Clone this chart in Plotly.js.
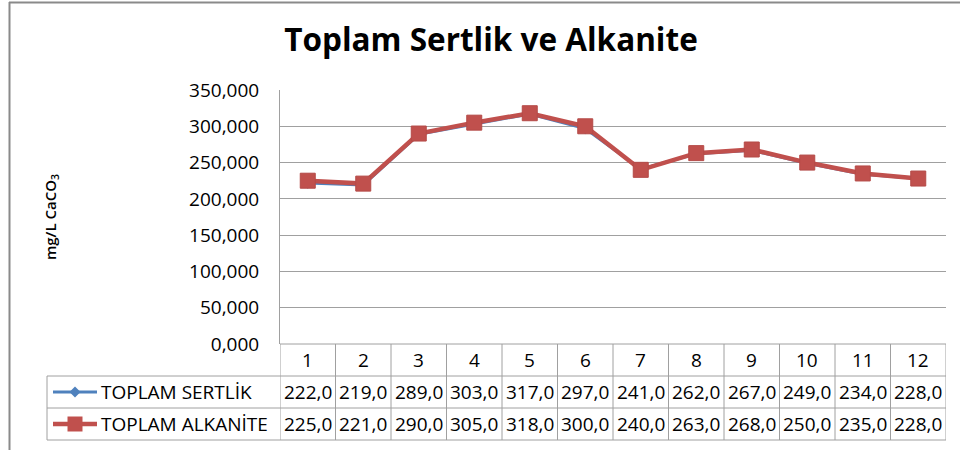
<!DOCTYPE html>
<html>
<head>
<meta charset="utf-8">
<script src="https://cdn.plot.ly/plotly-3.0.1.min.js"></script>
<style>
  html, body { margin: 0; padding: 0; background: #fff; }
  #chart { width: 960px; height: 450px; }
</style>
</head>
<body>
<div id="chart"></div>
<script>
// ---- data ----
var categories = [1, 2, 3, 4, 5, 6, 7, 8, 9, 10, 11, 12];
var seriesNames = ["TOPLAM SERTLİK", "TOPLAM ALKANİTE"];
var sertlik  = [222, 219, 289, 303, 317, 297, 241, 262, 267, 249, 234, 228];
var alkanite = [225, 221, 290, 305, 318, 300, 240, 263, 268, 250, 235, 228];
var yTickVals = [0, 50, 100, 150, 200, 250, 300, 350];

var FONT = "Open Sans, Lato, sans-serif";
var gridColor = "#a0a0a0";
var blue = "#4F81BD", red = "#C0504D";

function fmt1(v) { return v.toFixed(1).replace(".", ","); }

var traces = [
  {
    x: categories, y: sertlik, name: seriesNames[0], type: "scatter", mode: "lines+markers",
    line: { color: blue, width: 3 },
    marker: { symbol: "diamond", size: 9, color: blue }
  },
  {
    x: categories, y: alkanite, name: seriesNames[1], type: "scatter", mode: "lines+markers",
    line: { color: red, width: 4.5 },
    marker: { symbol: "square", size: 15, color: red, line: { color: "#B44A47", width: 1 } }
  }
];

// ---- table geometry ----
var plotTopPx = 90, plotBotPx = 344, plotLeftPx = 280, plotRightPx = 946;
var plotH = plotBotPx - plotTopPx, plotW = plotRightPx - plotLeftPx;
function py(px) { return (plotBotPx - px) / plotH; }
function pxx(px) { return (px - plotLeftPx) / plotW; }
var rowLines = [344, 376, 408, 440];
var headerMid = py(360), row1Mid = py(392), row2Mid = py(424);

var shapes = [];
rowLines.forEach(function (r) {
  shapes.push({ type: "line", xref: "x", yref: "paper", x0: 0.5, x1: categories.length + 0.5,
    y0: py(r), y1: py(r), line: { color: gridColor, width: 1 } });
});
[376, 408, 440].forEach(function (r) {
  shapes.push({ type: "line", xref: "paper", yref: "paper", x0: pxx(47), x1: 0,
    y0: py(r), y1: py(r), line: { color: gridColor, width: 1 } });
});
shapes.push({ type: "line", xref: "paper", yref: "paper", x0: pxx(47), x1: pxx(47),
  y0: py(376), y1: py(440), line: { color: gridColor, width: 1 } });
for (var i = 0; i <= categories.length; i++) {
  shapes.push({ type: "line", xref: "x", yref: "paper", x0: i + 0.5, x1: i + 0.5,
    y0: py(344), y1: py(440), line: { color: gridColor, width: 1 } });
}
// legend keys inside the table
var keyRows = [392, 424];
[blue, red].forEach(function (col, k) {
  shapes.push({ type: "line", xref: "paper", yref: "paper", x0: pxx(53), x1: pxx(97),
    y0: py(keyRows[k]), y1: py(keyRows[k]), line: { color: col, width: k ? 4.5 : 3 } });
});
shapes.push({ type: "path", xref: "paper", yref: "paper", xsizemode: "pixel", ysizemode: "pixel",
  xanchor: pxx(75), yanchor: py(392), path: "M0,5.5L5.5,0L0,-5.5L-5.5,0Z",
  fillcolor: blue, line: { color: blue, width: 0 } });
shapes.push({ type: "rect", xref: "paper", yref: "paper", xsizemode: "pixel", ysizemode: "pixel",
  xanchor: pxx(75), yanchor: py(424), x0: -7.5, x1: 7.5, y0: -7.5, y1: 7.5,
  fillcolor: red, line: { color: red, width: 0 } });
// outer frame (top and left)
shapes.push({ type: "line", xref: "paper", yref: "paper", x0: pxx(9), x1: pxx(962),
  y0: py(2.5), y1: py(2.5), line: { color: "#8a8a8a", width: 2 } });
shapes.push({ type: "line", xref: "paper", yref: "paper", x0: pxx(9.5), x1: pxx(9.5),
  y0: py(2), y1: py(452), line: { color: "#8a8a8a", width: 2 } });

var TF = { family: FONT, size: 19, color: "#000" };
var annotations = [];
categories.forEach(function (c, k) {
  annotations.push({ xref: "x", yref: "paper", x: c, y: headerMid, yanchor: "middle", xanchor: "center",
    text: String(c), showarrow: false, font: TF });
  annotations.push({ xref: "x", yref: "paper", x: c, y: row1Mid, yanchor: "middle", xanchor: "center",
    text: fmt1(sertlik[k]), showarrow: false, font: TF });
  annotations.push({ xref: "x", yref: "paper", x: c, y: row2Mid, yanchor: "middle", xanchor: "center",
    text: fmt1(alkanite[k]), showarrow: false, font: TF });
});
seriesNames.forEach(function (n, k) {
  annotations.push({ xref: "paper", yref: "paper", x: pxx(99), xanchor: "left", y: py(keyRows[k]),
    yanchor: "middle", text: n, showarrow: false, font: TF });
});

var layout = {
  width: 960, height: 450,
  margin: { l: 280, r: 14, t: 90, b: 106, pad: 0 },
  paper_bgcolor: "#fff", plot_bgcolor: "#fff",
  separators: ",.",
  font: { family: FONT, color: "#000" },
  title: {
    text: "<b>Toplam Sertlik ve Alkanite</b>",
    font: { family: FONT, size: 31.5, color: "#000" },
    x: 491 / 960, xanchor: "center", xref: "container",
    y: 1 - 40 / 450, yanchor: "middle", yref: "container"
  },
  xaxis: {
    range: [0.5, 12.5], showgrid: false, zeroline: false, showline: false,
    showticklabels: false, ticks: "", fixedrange: true
  },
  yaxis: {
    range: [0, 350], tickvals: yTickVals, tickformat: ".3f",
    showgrid: true, gridcolor: gridColor, gridwidth: 1,
    zeroline: false, showline: true, linecolor: gridColor, linewidth: 1,
    ticks: "", ticklabelstandoff: 16,
    tickfont: { family: FONT, size: 19, color: "#000" },
    title: { text: "mg/L CaCO<sub>3</sub>", standoff: 128,
      font: { family: FONT, size: 15, weight: 600, color: "#000" } },
    automargin: false, fixedrange: true
  },
  showlegend: false,
  shapes: shapes,
  annotations: annotations
};

Plotly.newPlot("chart", traces, layout, { displayModeBar: false, staticPlot: true });
</script>
</body>
</html>
